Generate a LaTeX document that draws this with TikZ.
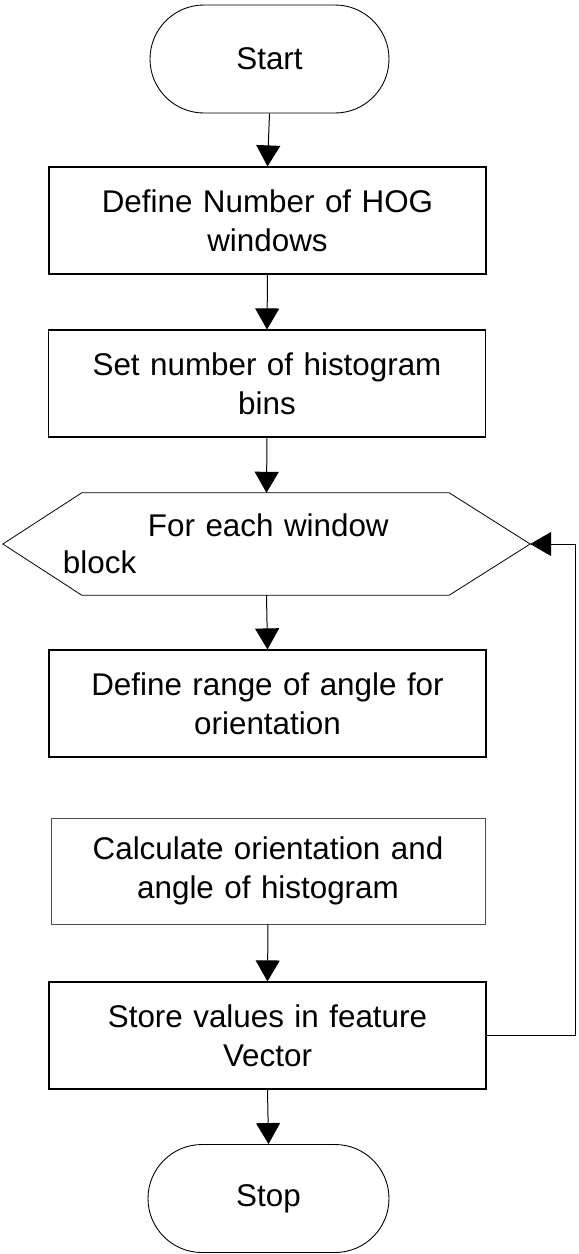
\documentclass[tikz,border=0pt]{standalone}
\usepackage{fontspec}
\setmainfont{Liberation Sans}
\usepackage{tikz}
\usetikzlibrary{arrows.meta, positioning, calc}

\tikzset{
  procbox/.style={draw, line width=1.2pt, minimum width=437bp, minimum height=107bp,
    inner sep=0pt, align=center, text width=420bp},
  termbox/.style={draw, line width=0.9pt, rounded corners=54bp, minimum height=108bp,
    inner sep=0pt, align=center},
  flow/.style={line width=1pt, -{Triangle[width=24bp,length=21bp]}},
}

\begin{document}
\begin{tikzpicture}[x=1bp, y=-1bp, every node/.style={font=\fontsize{31.5}{39}\selectfont}]
			\useasboundingbox (0,0) rectangle (579,1254);
			
			% terminals and steps
			\node[termbox, minimum width=239bp] (start) at (269.5,59) {Start};
			\node[procbox] (windows) at (267.5,220.5) {Define Number of HOG\\windows};
			\node[procbox] (bins) at (267,383.5) {Set number of histogram\\bins};
			
			% loop head
			\node[minimum width=527bp, minimum height=102bp, inner sep=0pt,
			      text width=407bp, align=left] (loop) at (266.5,544)
			      {\hspace*{85bp}For each window\\[-2pt]block};
			\draw[line width=0.8pt] (loop.west) -- ([xshift=79bp]loop.north west)
			      -- ([xshift=-81bp]loop.north east) -- (loop.east)
			      -- ([xshift=-81bp]loop.south east) -- ([xshift=79bp]loop.south west) -- cycle;
			
			\node[procbox] (range) at (267.5,703.5) {Define range of angle for\\orientation};
			\node[procbox, line width=0.6pt, draw=black!70, minimum width=434bp, minimum height=106bp]
			      (calc) at (268,871) {Calculate orientation and\\angle of histogram};
			\node[procbox] (store) at (267.5,1035.5) {Store values in feature\\Vector};
			\node[termbox, minimum width=241bp] (stop) at (268.5,1198.5) {Stop};
			
			% connectors
			\draw[flow] (start.south) -- (windows.north);
			\draw[flow] (windows.south) -- (bins.north);
			\draw[flow] (bins.south) -- (loop.north);
			\draw[flow] (loop.south) -- (range.north);
			\draw[flow] (calc.south) -- (store.north);
			\draw[flow] (store.south) -- (stop.north);
			\draw[flow] (store.east) -- ++(89,0) |- (loop.east);
\end{tikzpicture}
\end{document}
